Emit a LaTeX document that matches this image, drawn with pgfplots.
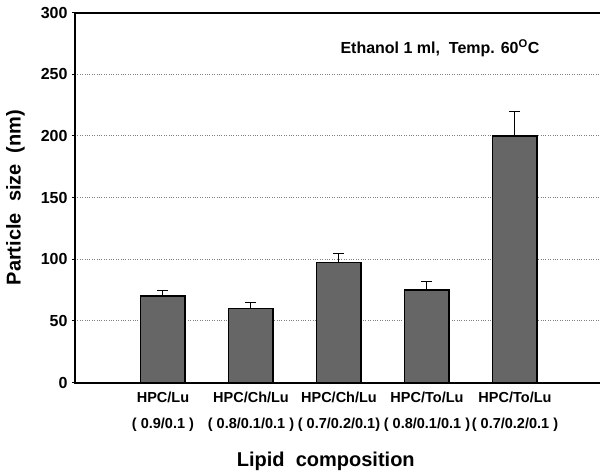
\documentclass[border=0pt]{standalone}
\usepackage{pgfplots}
\pgfplotsset{compat=1.18}
\usepackage{fontspec}
\setmainfont{Liberation Sans}
\definecolor{barfill}{RGB}{102,102,102}
\newcommand{\bfs}[1]{\fontsize{#1}{#1}\selectfont\bfseries}

\begin{document}
\begin{tikzpicture}
\begin{axis}[
  name=ax,
  scale only axis,
  width=528pt, height=370pt,
  xmin=0, xmax=6, ymin=0, ymax=300,
  ybar, bar width=44.5pt,
  xtick={1,2,3,4,5},
  xticklabels={{HPC/Lu\\( 0.9/0.1 )},
               {HPC/Ch/Lu\\( 0.8/0.1/0.1 )},
               {HPC/Ch/Lu\\( 0.7/0.2/0.1)},
               {HPC/To/Lu\\( 0.8/0.1/0.1 )},
               {HPC/To/Lu\\( 0.7/0.2/0.1 )}},
  ytick={0,50,...,300},
  /pgf/number format/assume math mode=true,
  yticklabel={\bfs{16}\pgfmathprintnumber{\tick}},
  ymajorgrids, grid style={dotted, gray, line width=0.8pt},
  tick align=outside, major tick length=3pt,
  xtick style={draw=none},
  ytick style={line width=1pt, black},
  axis line style={line width=2pt},
  yticklabel style={xshift=-1pt},
  xticklabel style={font=\fontsize{14.5}{26}\selectfont\bfseries, align=center, yshift=-3pt},
  ylabel={\bfs{20}Particle\ \ size\ \ (nm)},
  every axis y label/.style={at={(rel axis cs:0,0.5)}, xshift=-59.5pt, rotate=90, anchor=center},
  xlabel={\bfs{20}Lipid\ \ composition},
  every axis x label/.style={at={(axis cs:2.85,0)}, anchor=center, yshift=-79pt},
]
\addplot[fill=barfill, draw=black, line width=1.5pt,
  error bars/.cd, y dir=plus, y explicit,
  error bar style={line width=1pt, black},
  error mark options={rotate=90, mark size=5.5pt, line width=1pt, black}]
  coordinates {(1,70) +- (0,5) (2,60) +- (0,5) (3,97.5) +- (0,7.5) (4,75) +- (0,7) (5,200) +- (0,20)};
\node[anchor=base west]
  at (axis cs:2.977,266.8) {\bfs{16}Ethanol 1 ml,\ \ Temp. 60\textsuperscript{O}C};
\end{axis}
\pgfresetboundingbox
\path (ax.south west) ++(-75pt,-92.5pt) rectangle ++(600pt,475pt);
\end{tikzpicture}
\end{document}
